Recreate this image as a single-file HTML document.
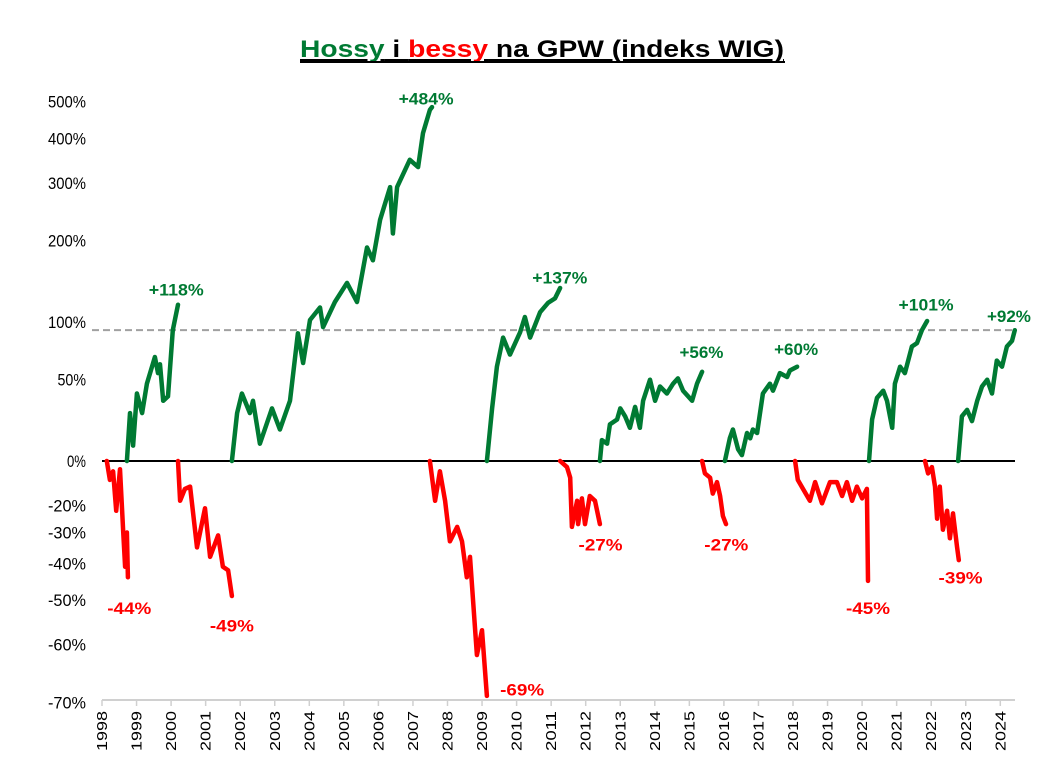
<!DOCTYPE html>
<html><head><meta charset="utf-8"><style>
html,body{margin:0;padding:0;background:#fff;}
svg{display:block;font-family:"Liberation Sans",sans-serif;}
</style></head><body>
<svg id="chart" width="1063" height="767" viewBox="0 0 1063 767" xmlns="http://www.w3.org/2000/svg">
<text x="542" y="57" text-anchor="middle" font-size="24" font-weight="bold" text-decoration="underline" textLength="484" lengthAdjust="spacingAndGlyphs"><tspan fill="#007A33">Hossy</tspan><tspan fill="#000"> i </tspan><tspan fill="#FF0000">bessy</tspan><tspan fill="#000"> na GPW (indeks WIG)</tspan></text>
<line x1="300" y1="62" x2="785" y2="62" stroke="#000" stroke-width="2"/>
<g id="axes"></g>
<g id="series"></g>
<g id="labels"></g>
</svg>
<script>
const yTicks = [500,400,300,200,100,50,0,-20,-30,-40,-50,-60,-70];
const years = [1998,1999,2000,2001,2002,2003,2004,2005,2006,2007,2008,2009,2010,2011,2012,2013,2014,2015,2016,2017,2018,2019,2020,2021,2022,2023,2024];
const refLevel = 92;

const bull1T = [1998.72,1998.81,1998.90,1999.01,1999.16,1999.30,1999.53,1999.62,1999.68,1999.77,1999.91,2000.05,2000.20];
const bull1V = [0,27,8,40,27,47,68,55,62,35,38,92,118];
const bear1T = [1998.14,1998.23,1998.32,1998.41,1998.52,1998.61,1998.67,1998.72,1998.75];
const bear1V = [0,-9,-5,-22,-4,-29,-41,-30,-44];
const bear2T = [2000.20,2000.26,2000.40,2000.55,2000.75,2000.98,2001.13,2001.36,2001.50,2001.65,2001.76];
const bear2V = [0,-18,-13,-12,-35,-21,-38,-31,-41,-42,-49];
const bull2T = [2001.76,2001.91,2002.05,2002.28,2002.37,2002.57,2002.92,2003.15,2003.44,2003.67,2003.82,2004.02,2004.31,2004.40,2004.74,2005.09,2005.38,2005.67,2005.84,2006.05,2006.34,2006.42,2006.54,2006.91,2007.15,2007.29,2007.49,2007.55];
const bull2V = [0,27,40,27,35,9,30,17,35,89,63,102,115,95,121,143,121,190,172,233,292,211,292,349,333,413,476,484];
const bear3T = [2007.49,2007.64,2007.78,2007.93,2008.07,2008.28,2008.42,2008.56,2008.65,2008.85,2009.00,2009.14];
const bear3V = [0,-18,-5,-18,-33,-28,-33,-44,-38,-62,-57,-69];
const bull3T = [2009.14,2009.29,2009.43,2009.61,2009.81,2010.10,2010.24,2010.39,2010.68,2010.91,2011.11,2011.26];
const bull3V = [0,30,60,85,70,90,105,85,110,120,125,137];
const bear4T = [2011.26,2011.46,2011.55,2011.60,2011.75,2011.78,2011.89,2011.98,2012.12,2012.27,2012.41];
const bear4V = [0,-3,-8,-28,-18,-27,-17,-27,-16,-18,-27];
const bull4T = [2012.41,2012.47,2012.62,2012.70,2012.91,2013.00,2013.14,2013.28,2013.43,2013.57,2013.66,2013.86,2014.01,2014.15,2014.35,2014.53,2014.67,2014.82,2015.08,2015.22,2015.37];
const bull4V = [0,11,9,20,23,30,25,18,31,18,35,50,35,45,40,47,51,42,35,47,56];
const bear5T = [2015.37,2015.45,2015.60,2015.68,2015.80,2015.89,2015.97,2016.06];
const bear5V = [0,-6,-8,-15,-10,-16,-24,-27];
const bull5T = [2016.03,2016.17,2016.26,2016.41,2016.52,2016.67,2016.76,2016.84,2016.96,2017.13,2017.33,2017.42,2017.62,2017.83,2017.91,2018.12];
const bull5V = [0,12,17,6,3,15,12,17,15,40,47,42,55,52,57,60];
const bear6T = [2018.06,2018.14,2018.29,2018.49,2018.64,2018.84,2019.07,2019.27,2019.42,2019.56,2019.71,2019.85,2020.00,2020.14,2020.17];
const bear6V = [0,-9,-13,-18,-10,-19,-10,-10,-16,-10,-18,-12,-17,-13,-45];
const bull6T = [2020.20,2020.29,2020.43,2020.61,2020.72,2020.87,2020.95,2021.10,2021.24,2021.44,2021.59,2021.73,2021.88];
const bull6V = [0,23,37,42,35,18,47,60,55,77,80,92,101];
const bear7T = [2021.82,2021.91,2022.02,2022.11,2022.17,2022.25,2022.34,2022.46,2022.54,2022.63,2022.75,2022.80];
const bear7V = [0,-6,-3,-12,-25,-12,-29,-22,-32,-23,-35,-39];
const bull7T = [2022.78,2022.89,2023.04,2023.18,2023.33,2023.47,2023.62,2023.76,2023.90,2024.05,2024.19,2024.34,2024.42];
const bull7V = [0,25,29,22,35,45,50,40,65,60,77,82,92];

const peakLabels = ["+484%","+118%","+137%","+56%","+60%","+101%","+92%","-44%","-49%","-69%","-27%","-27%","-45%","-39%"];
const peakT = [2007.38,2000.15,2011.25,2015.35,2018.09,2021.85,2024.25,1998.79,2001.76,2010.16,2012.43,2016.07,2020.17,2022.85];
const peakV = [510,135,150,72,75,118,106,-52,-56,-68,-34,-34,-52,-44];

const NS='http://www.w3.org/2000/svg';
const X0=102, PXY=34.55, Y0=461, PXL=139;
function xs(t){return X0+(t-1998)*PXY;}
function ys(v){return Y0-PXL*Math.log2(1+v/100);}
function mk(tag,attrs,parent){const e=document.createElementNS(NS,tag);for(const k in attrs)e.setAttribute(k,attrs[k]);parent.appendChild(e);return e;}
const axes=document.getElementById('axes'), series=document.getElementById('series'), labels=document.getElementById('labels');

yTicks.forEach(v=>{
  const t=mk('text',{x:86,y:ys(v)+6,'text-anchor':'end','font-size':17,fill:'#000',textLength:(String(v).length+1)*9.5,lengthAdjust:'spacingAndGlyphs'},axes);
  
  
  t.textContent=v+'%';
});
const al=mk('line',{x1:X0,y1:700,x2:1015,y2:700,stroke:'#d0d0d0','stroke-width':2},axes);


years.forEach(yv=>{
  const x=xs(yv);
  const tk=mk('line',{x1:x,y1:700,x2:x,y2:706,stroke:'#d0d0d0','stroke-width':1.5},axes);
  
  
  const t=mk('text',{x:0,y:0,'text-anchor':'end','font-size':15,fill:'#000',transform:`translate(${x+5},711) rotate(-90)`,textLength:40,lengthAdjust:'spacingAndGlyphs'},axes);
  
  
  t.textContent=yv;
});
const rl=mk('line',{x1:92,y1:ys(refLevel),x2:1015,y2:ys(refLevel),stroke:'#a0a0a0','stroke-width':2,'stroke-dasharray':'7,4'},axes);


const zl=mk('line',{x1:X0,y1:Y0,x2:1015,y2:Y0,stroke:'#000','stroke-width':2},axes);



const segs=[[bull1T,bull1V,'bull'],[bear1T,bear1V,'bear'],[bear2T,bear2V,'bear'],[bull2T,bull2V,'bull'],[bear3T,bear3V,'bear'],[bull3T,bull3V,'bull'],[bear4T,bear4V,'bear'],[bull4T,bull4V,'bull'],[bear5T,bear5V,'bear'],[bull5T,bull5V,'bull'],[bear6T,bear6V,'bear'],[bull6T,bull6V,'bull'],[bear7T,bear7V,'bear'],[bull7T,bull7V,'bull']];
segs.forEach((s,i)=>{
  const pts=s[0].map((t,j)=>xs(t).toFixed(1)+','+ys(s[1][j]).toFixed(1)).join(' ');
  const p=mk('polyline',{points:pts,fill:'none',stroke:s[2]==='bull'?'#007A33':'#FF0000','stroke-width':4.5,'stroke-linejoin':'round','stroke-linecap':'round'},series);
  
  
});
peakLabels.forEach((l,i)=>{
  const t=mk('text',{x:xs(peakT[i]),y:ys(peakV[i])+6,'text-anchor':'middle','font-size':17,'font-weight':'bold',fill:l[0]==='+'?'#007A33':'#FF0000',textLength:l.length*11,lengthAdjust:'spacingAndGlyphs'},labels);
  
  
  t.textContent=l;
});
</script>
</body></html>
